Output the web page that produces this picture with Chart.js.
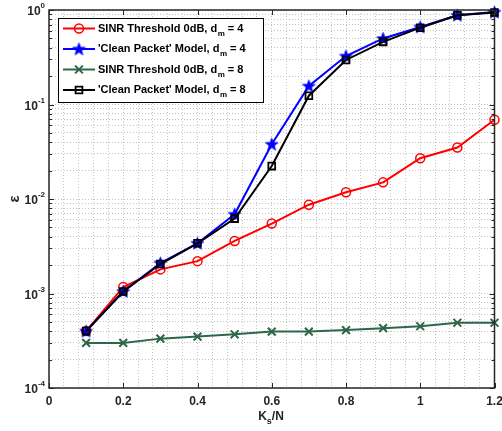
<!DOCTYPE html>
<html><head><meta charset="utf-8">
<script src="https://cdn.jsdelivr.net/npm/chart.js@4/dist/chart.umd.min.js"></script>
<style>html,body{margin:0;padding:0;background:#fff}canvas{display:block}</style>
</head><body>
<canvas id="c" width="502" height="431"></canvas>
<script>
// ---- data ----
const ksOverN   = [0.1, 0.2, 0.3, 0.4, 0.5, 0.6, 0.7, 0.8, 0.9, 1.0, 1.1, 1.2];
const sinrDm4   = [4.0e-4, 1.17e-3, 1.8e-3, 2.2e-3, 3.6e-3, 5.5e-3, 8.7e-3, 1.18e-2, 1.5e-2, 2.7e-2, 3.5e-2, 6.9e-2];
const cleanDm4  = [4.0e-4, 1.05e-3, 2.1e-3, 3.4e-3, 6.9e-3, 3.8e-2, 0.157, 0.326, 0.50, 0.66, 0.88, 0.95];
const sinrDm8   = [3.0e-4, 3.0e-4, 3.33e-4, 3.5e-4, 3.7e-4, 3.95e-4, 3.95e-4, 4.1e-4, 4.3e-4, 4.5e-4, 4.9e-4, 4.9e-4];
const cleanDm8  = [4.0e-4, 1.05e-3, 2.05e-3, 3.4e-3, 6.2e-3, 2.23e-2, 0.124, 0.296, 0.46, 0.65, 0.88, 0.94];
const xTickValues = [0, 0.2, 0.4, 0.6, 0.8, 1.0, 1.2];
const xTickLabels = ['0', '0.2', '0.4', '0.6', '0.8', '1', '1.2'];
const xMinorStep = 0.04;
const yDecades = [-4, -3, -2, -1, 0];
const legendBase = ["SINR Threshold 0dB, d", "'Clean Packet' Model, d", "SINR Threshold 0dB, d", "'Clean Packet' Model, d"];
const legendSub = ["m", "m", "m", "m"];
const legendTail = [" = 4", " = 4", " = 8", " = 8"];
const xTitle = ["K", "s", "/N"];
const yTitle = "\u03B5";

// ---- star marker ----
function makeStar(color, R) {
  const c = document.createElement('canvas');
  const s = Math.ceil(R * 2 + 2);
  c.width = s; c.height = s;
  const g = c.getContext('2d');
  g.beginPath();
  for (let i = 0; i < 10; i++) {
    const r = i % 2 === 0 ? R : R * 0.4;
    const a = -Math.PI / 2 + i * Math.PI / 5;
    const px = s / 2 + r * Math.cos(a), py = s / 2 + r * Math.sin(a) + 0.5;
    if (i === 0) g.moveTo(px, py); else g.lineTo(px, py);
  }
  g.closePath();
  g.fillStyle = color; g.fill();
  g.strokeStyle = color; g.lineWidth = 1; g.stroke();
  return c;
}
const starImg = makeStar('#0000ff', 6.5);

const RED = '#ff0000', BLUE = '#0000ff', GREEN = '#2e6649', BLACK = '#000000';
const pts = arr => arr.map((v, i) => ({x: ksOverN[i], y: v}));

const datasets = [
  {data: pts(sinrDm4), borderColor: RED, pointBorderColor: RED, pointBackgroundColor: 'rgba(0,0,0,0)', pointStyle: 'circle', pointRadius: 4.5, pointBorderWidth: 1.5, order: 3},
  {data: pts(cleanDm4), borderColor: BLUE, pointBorderColor: BLUE, pointBackgroundColor: BLUE, pointStyle: starImg, pointRadius: 6, pointBorderWidth: 1, order: 2},
  {data: pts(sinrDm8), borderColor: GREEN, pointBorderColor: GREEN, pointBackgroundColor: GREEN, pointStyle: 'crossRot', pointRadius: 5.5, pointBorderWidth: 2, order: 1},
  {data: pts(cleanDm8), borderColor: BLACK, pointBorderColor: BLACK, pointBackgroundColor: 'rgba(0,0,0,0)', pointStyle: 'rect', pointRadius: 4.8, pointBorderWidth: 1.8, order: 0},
].map(d => Object.assign({borderWidth: 2, tension: 0, fill: false, clip: false, pointHoverRadius: d.pointRadius}, d));

const AXC = '#262626';
const FONT = '"Liberation Sans", Arial, Helvetica, sans-serif';

const overlay = {
  id: 'overlay',
  afterDraw(chart) {
    const ctx = chart.ctx, a = chart.chartArea, xs = chart.scales.x, ys = chart.scales.y;
    ctx.save();
    // ticks
    ctx.strokeStyle = AXC; ctx.lineWidth = 1;
    ctx.beginPath();
    xTickValues.forEach(v => {
      const px = Math.round(xs.getPixelForValue(v)) + 0.5;
      ctx.moveTo(px, a.bottom); ctx.lineTo(px, a.bottom - 5);
      ctx.moveTo(px, a.top); ctx.lineTo(px, a.top + 5);
    });
    yDecades.forEach((e, i) => {
      for (let k = 1; k <= 9; k++) {
        if (e === 0 && k > 1) break;
        const py = Math.round(ys.getPixelForValue(k * Math.pow(10, e))) + 0.5;
        const len = k === 1 ? 5 : 3;
        ctx.moveTo(a.left, py); ctx.lineTo(a.left + len, py);
        ctx.moveTo(a.right, py); ctx.lineTo(a.right - len, py);
      }
    });
    ctx.stroke();
    // box
    ctx.lineWidth = 1.5;
    ctx.strokeRect(a.left, a.top, a.right - a.left, a.bottom - a.top);
    // x tick labels
    ctx.fillStyle = AXC;
    ctx.font = 'bold 12px ' + FONT;
    ctx.textAlign = 'center'; ctx.textBaseline = 'middle';
    xTickValues.forEach((v, i) => {
      ctx.fillText(xTickLabels[i], xs.getPixelForValue(v), a.bottom + 14);
    });
    // y tick labels 10^e
    yDecades.forEach(e => {
      const py = ys.getPixelForValue(Math.pow(10, e));
      const sup = String(e);
      ctx.font = 'bold 8px ' + FONT;
      const ws = ctx.measureText(sup).width;
      const right = a.left - 4;
      ctx.textAlign = 'left'; ctx.textBaseline = 'middle';
      ctx.fillText(sup, right - ws, py - 4);
      ctx.font = 'bold 12px ' + FONT;
      ctx.textAlign = 'right';
      ctx.fillText('10', right - ws, py + 2);
    });
    // axis titles
    ctx.font = 'bold 12px ' + FONT;
    const wK = ctx.measureText(xTitle[0]).width, wN = ctx.measureText(xTitle[2]).width;
    ctx.font = 'bold 9px ' + FONT;
    const wS = ctx.measureText(xTitle[1]).width;
    let tx = 271 - (wK + wS + wN) / 2, ty = 417;
    ctx.textAlign = 'left'; ctx.textBaseline = 'middle';
    ctx.font = 'bold 12px ' + FONT; ctx.fillText(xTitle[0], tx, ty); tx += wK;
    ctx.font = 'bold 9px ' + FONT; ctx.fillText(xTitle[1], tx, ty + 5); tx += wS;
    ctx.font = 'bold 12px ' + FONT; ctx.fillText(xTitle[2], tx, ty);
    ctx.save();
    ctx.translate(15, 199); ctx.rotate(-Math.PI / 2);
    ctx.textAlign = 'center'; ctx.textBaseline = 'middle'; ctx.font = 'bold 15px ' + FONT;
    ctx.fillText(yTitle, 0, 0);
    ctx.restore();
    // legend
    const L = 58, T = 18, W = 205, H = 84;
    ctx.fillStyle = '#ffffff';
    ctx.fillRect(L, T, W, H);
    ctx.strokeStyle = '#000'; ctx.lineWidth = 1;
    ctx.strokeRect(L + 0.5, T + 0.5, W, H);
    datasets.forEach((d, i) => {
      const ry = T + 10.5 + i * 20.5;
      ctx.strokeStyle = d.borderColor; ctx.lineWidth = d.borderWidth;
      ctx.beginPath(); ctx.moveTo(63, ry); ctx.lineTo(95, ry); ctx.stroke();
      ctx.fillStyle = d.pointBackgroundColor; ctx.strokeStyle = d.pointBorderColor; ctx.lineWidth = d.pointBorderWidth;
      Chart.helpers.drawPoint(ctx, {pointStyle: d.pointStyle, radius: d.pointRadius, rotation: 0, borderWidth: d.pointBorderWidth}, 79, ry);
      let lx = 98;
      ctx.fillStyle = '#000'; ctx.textAlign = 'left'; ctx.textBaseline = 'middle';
      ctx.font = 'bold 11px ' + FONT; ctx.fillText(legendBase[i], lx, ry); lx += ctx.measureText(legendBase[i]).width;
      ctx.font = 'bold 8px ' + FONT; ctx.fillText(legendSub[i], lx + 0.5, ry + 5); lx += ctx.measureText(legendSub[i]).width + 0.5;
      ctx.font = 'bold 11px ' + FONT; ctx.fillText(legendTail[i], lx, ry);
    });
    ctx.restore();
  }
};

const gridOpts = {color: '#c4c4c4', lineWidth: 1, drawTicks: false, tickLength: 0};

new Chart(document.getElementById('c'), {
  type: 'line',
  data: {datasets},
  options: {
    responsive: false,
    animation: false,
    events: [],
    layout: {padding: {left: 49, right: 2, top: 10, bottom: 43}},
    plugins: {legend: {display: false}, tooltip: {enabled: false}},
    scales: {
      x: {
        type: 'linear', min: 0, max: 1.2,
        afterBuildTicks: s => {
          const t = [];
          for (let i = 0; i <= Math.round(1.2 / xMinorStep); i++) t.push({value: +(i * xMinorStep).toFixed(4)});
          s.ticks = t;
        },
        ticks: {display: false},
        grid: Object.assign({}, gridOpts),
        border: {display: false, dash: [1, 2]},
      },
      y: {
        type: 'logarithmic', min: 1e-4, max: 1,
        afterBuildTicks: s => {
          const t = [];
          yDecades.forEach(e => { for (let k = 1; k <= 9; k++) { const v = k * Math.pow(10, e); if (v <= 1) t.push({value: v}); } });
          s.ticks = t;
        },
        ticks: {display: false},
        grid: Object.assign({}, gridOpts),
        border: {display: false, dash: [1, 2]},
      }
    }
  },
  plugins: [overlay]
});
</script>
</body></html>
